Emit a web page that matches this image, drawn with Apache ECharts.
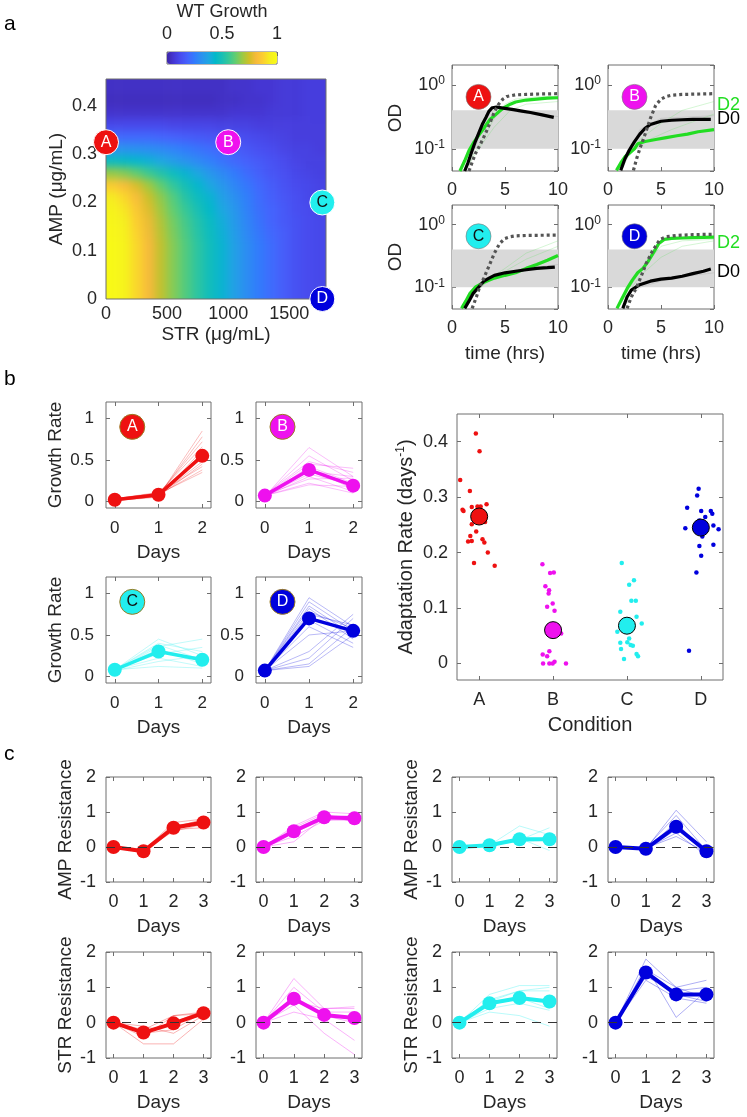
<!DOCTYPE html>
<html><head><meta charset="utf-8">
<script src="https://cdn.jsdelivr.net/npm/echarts@6/dist/echarts.min.js"></script>
<style>
html,body{margin:0;padding:0;background:#fff}
#wrap{position:relative;width:747px;height:1117px}
#heatwrap{position:absolute;left:106px;top:79px;width:220px;height:220px;overflow:hidden;z-index:0}
#heat{position:absolute;left:-14px;top:-14px;width:248px;height:248px;filter:blur(4px)}
#c{position:absolute;left:0;top:0;width:747px;height:1117px;z-index:1}
</style>
</head><body><div id="wrap"><div id="heatwrap"><div id="heat"></div></div><div id="c"></div></div>
<script>
// ---------------- DATA ----------------
// Panel a: WT growth landscape (rows = AMP cell centres, columns = STR cell centres)
const strCenters = [50,150,250,350,450,550,650,750,850,950,1050,1150,1250,1350,1450,1550,1650,1750];
const ampCenters = [0.0125,0.0375,0.0625,0.0875,0.1125,0.1375,0.1625,0.1875,0.2125,0.2375,0.2625,0.2875,0.3125,0.3375,0.3625,0.3875,0.4125,0.4375,0.4625];
const growthRows = [
 [0.99,0.96,0.89,0.81,0.73,0.66,0.60,0.54,0.48,0.42,0.36,0.30,0.25,0.21,0.17,0.14,0.12,0.11],
 [0.99,0.96,0.89,0.81,0.73,0.66,0.60,0.54,0.48,0.42,0.36,0.30,0.25,0.21,0.17,0.14,0.12,0.11],
 [0.99,0.96,0.89,0.81,0.73,0.66,0.60,0.54,0.48,0.42,0.36,0.30,0.25,0.21,0.17,0.14,0.12,0.11],
 [0.99,0.96,0.89,0.81,0.73,0.66,0.60,0.54,0.48,0.42,0.36,0.30,0.25,0.21,0.17,0.14,0.12,0.11],
 [0.99,0.96,0.89,0.81,0.73,0.66,0.60,0.54,0.48,0.42,0.36,0.30,0.25,0.21,0.17,0.14,0.12,0.11],
 [0.98,0.95,0.88,0.80,0.72,0.65,0.59,0.53,0.47,0.41,0.35,0.29,0.24,0.20,0.17,0.14,0.12,0.11],
 [0.97,0.94,0.87,0.79,0.71,0.64,0.58,0.52,0.46,0.40,0.34,0.28,0.23,0.19,0.16,0.14,0.12,0.11],
 [0.96,0.92,0.85,0.77,0.69,0.62,0.56,0.50,0.44,0.38,0.33,0.27,0.22,0.19,0.16,0.13,0.12,0.10],
 [0.93,0.89,0.82,0.74,0.67,0.60,0.53,0.47,0.42,0.36,0.31,0.26,0.21,0.18,0.15,0.13,0.11,0.10],
 [0.86,0.82,0.76,0.69,0.62,0.55,0.49,0.43,0.38,0.33,0.28,0.24,0.20,0.17,0.14,0.12,0.11,0.10],
 [0.68,0.66,0.62,0.57,0.52,0.47,0.42,0.38,0.33,0.29,0.25,0.21,0.18,0.15,0.13,0.11,0.10,0.09],
 [0.46,0.45,0.43,0.41,0.38,0.35,0.32,0.29,0.26,0.23,0.20,0.18,0.16,0.14,0.12,0.10,0.09,0.09],
 [0.32,0.32,0.31,0.30,0.29,0.27,0.25,0.23,0.21,0.19,0.17,0.15,0.13,0.12,0.10,0.09,0.09,0.08],
 [0.20,0.20,0.20,0.20,0.19,0.18,0.17,0.16,0.15,0.14,0.13,0.12,0.11,0.10,0.09,0.08,0.08,0.08],
 [0.11,0.11,0.11,0.11,0.11,0.10,0.10,0.10,0.10,0.09,0.09,0.09,0.08,0.08,0.08,0.08,0.08,0.08],
 [0.05,0.05,0.05,0.05,0.05,0.05,0.05,0.05,0.05,0.05,0.06,0.06,0.06,0.07,0.07,0.07,0.08,0.08],
 [0.03,0.03,0.03,0.03,0.03,0.03,0.03,0.03,0.03,0.04,0.04,0.05,0.05,0.06,0.07,0.07,0.08,0.08],
 [0.04,0.04,0.04,0.04,0.04,0.04,0.04,0.04,0.04,0.04,0.05,0.05,0.06,0.06,0.07,0.07,0.08,0.08],
 [0.04,0.04,0.04,0.04,0.04,0.04,0.04,0.04,0.04,0.04,0.05,0.05,0.06,0.06,0.07,0.07,0.08,0.08]
];
const conditionLabels = ['A','B','C','D'];
const conditionSTR = [0, 1000, 1770, 1770];
const conditionAMP = [0.325, 0.325, 0.2, 0];
const colorbarTicks = [0, 0.5, 1];

// OD curves [time (hrs), OD]
const odRef = [
 [[1.6,0.045],[2.2,0.084],[2.7,0.12],[3.2,0.18],[3.6,0.26],[4,0.38],[4.4,0.5],[4.8,0.6],[5.2,0.66],[6,0.7],[7,0.71],[8,0.72],[10,0.73]],
 [[2.4,0.046],[2.7,0.07],[3,0.1],[3.5,0.17],[4,0.3],[4.5,0.48],[5,0.6],[5.5,0.66],[6,0.69],[7,0.71],[10,0.73]],
 [[1.9,0.046],[2.3,0.07],[2.6,0.1],[3,0.14],[3.5,0.22],[4,0.35],[4.5,0.5],[5,0.6],[5.5,0.64],[6,0.66],[7,0.67],[10,0.68]],
 [[1.8,0.046],[2.2,0.07],[2.7,0.1],[3.2,0.16],[3.6,0.24],[4.2,0.38],[4.9,0.58],[5.5,0.64],[6.5,0.67],[8,0.69],[10,0.7]]
];
const odD0 = [
 [[1.2,0.045],[1.5,0.06],[1.9,0.094],[2.2,0.13],[2.6,0.19],[2.9,0.25],[3.2,0.31],[3.5,0.39],[3.8,0.44],[4.2,0.45],[5,0.43],[5.8,0.41],[6.6,0.39],[7.4,0.37],[8.5,0.34],[9.6,0.31]],
 [[1.2,0.046],[1.6,0.07],[2,0.095],[2.5,0.13],[3,0.17],[3.5,0.21],[4,0.24],[5,0.27],[6,0.28],[7,0.285],[8,0.29],[9.7,0.29]],
 [[1.2,0.046],[1.6,0.06],[2,0.08],[2.5,0.1],[3,0.125],[3.5,0.14],[4,0.155],[5,0.17],[6,0.18],[7,0.19],[8,0.2],[9,0.205],[9.7,0.21]],
 [[1.4,0.046],[1.8,0.07],[2.2,0.09],[3,0.11],[4,0.125],[5,0.135],[6,0.14],[7,0.15],[8,0.165],[9,0.18],[9.7,0.195]]
];
const odD2 = [
 [[0.75,0.045],[1.2,0.065],[1.6,0.094],[2.1,0.13],[2.6,0.17],[3.1,0.22],[3.6,0.29],[4.1,0.34],[4.5,0.39],[5,0.45],[5.5,0.5],[6,0.54],[7,0.58],[8,0.6],[9,0.62],[10,0.63]],
 [[0.8,0.046],[1.2,0.06],[1.6,0.075],[2,0.085],[2.5,0.1],[2.8,0.12],[3.5,0.13],[4.5,0.14],[5.5,0.15],[6.5,0.16],[7.5,0.17],[8.5,0.185],[10,0.2]],
 [[0.9,0.046],[1.3,0.06],[1.7,0.08],[2.2,0.1],[3,0.12],[4,0.14],[5,0.155],[6,0.17],[7,0.2],[8,0.23],[9,0.27],[10,0.32]],
 [[0.85,0.046],[1.3,0.065],[1.8,0.095],[2.3,0.13],[2.8,0.17],[3.3,0.2],[3.8,0.26],[4.3,0.36],[4.8,0.5],[5.3,0.58],[6,0.6],[7,0.61],[8,0.62],[10,0.63]]
];
const odRepGreen = [
 [[[1,0.045],[2,0.08],[3,0.15],[4,0.3],[5,0.5],[6,0.6],[8,0.65],[10,0.66]],[[1.2,0.045],[2.5,0.1],[4,0.22],[5.5,0.4],[7,0.5],[10,0.55]]],
 [[[1,0.05],[3,0.14],[5,0.25],[7,0.4],[10,0.55]],[[1,0.05],[3,0.12],[6,0.2],[10,0.35]]],
 [[[1,0.05],[3,0.12],[5,0.2],[7,0.35],[10,0.55]],[[1,0.05],[3,0.11],[5,0.18],[7,0.28],[10,0.45]]],
 [[[1,0.05],[3,0.15],[5,0.3],[7,0.45],[10,0.55]],[[1,0.05],[3,0.18],[5,0.45],[7,0.55],[10,0.58]]]
];
const odRepGray = [
 [[[1.5,0.045],[2.5,0.15],[3.5,0.38],[4.5,0.42],[7,0.36],[10,0.32]]],
 [[[1.4,0.05],[3,0.2],[5,0.3],[10,0.33]]],
 [[[1.4,0.05],[3,0.13],[6,0.19],[10,0.23]]],
 [[[1.5,0.05],[3,0.1],[6,0.14],[10,0.17]]]
];

// Panel b: growth rates per day (days 0,1,2)
const growthDays = [0,1,2];
const growthMean = [[0.02,0.08,0.55],[0.07,0.38,0.19],[0.08,0.30,0.20],[0.07,0.70,0.55]];
const growthInd = [
 [[0.01,0.06,0.85],[0.02,0.07,0.78],[0.02,0.09,0.72],[0.03,0.1,0.66],[0.01,0.05,0.62],[0.02,0.08,0.58],[0.03,0.11,0.52],[0.02,0.07,0.48],[0.01,0.06,0.45],[0.03,0.1,0.42],[0.02,0.08,0.38],[0.02,0.09,0.35]],
 [[0.06,0.65,0.3],[0.07,0.55,0.25],[0.08,0.48,0.35],[0.07,0.45,0.4],[0.06,0.42,0.22],[0.08,0.4,0.15],[0.07,0.36,0.3],[0.07,0.33,0.2],[0.06,0.3,0.12],[0.08,0.27,0.28],[0.07,0.22,0.1],[0.07,0.2,0.18]],
 [[0.08,0.45,0.25],[0.08,0.4,0.3],[0.07,0.36,0.45],[0.08,0.33,0.15],[0.08,0.3,0.2],[0.09,0.27,0.35],[0.08,0.22,0.12],[0.07,0.18,0.25],[0.08,0.12,0.1],[0.08,0.38,0.2]],
 [[0.07,0.95,0.6],[0.07,0.9,0.55],[0.07,0.85,0.5],[0.07,0.82,0.45],[0.07,0.78,0.58],[0.07,0.75,0.62],[0.07,0.72,0.52],[0.07,0.68,0.4],[0.07,0.6,0.35],[0.07,0.5,0.55],[0.07,0.3,0.75],[0.07,0.22,0.7],[0.07,0.15,0.6],[0.07,0.12,0.5]]
];
// adaptation rate per replicate [jittered condition position, rate]
const adaptA = [[0.955,0.415],[1.005,0.383],[0.743,0.331],[0.874,0.311],[0.775,0.277],[0.788,0.275],[0.9,0.282],[0.977,0.283],[1.02,0.283],[1.1,0.287],[1.07,0.259],[0.9,0.251],[1.08,0.255],[0.96,0.238],[0.88,0.23],[0.85,0.22],[0.9,0.221],[1.045,0.224],[1.07,0.218],[1.117,0.2],[0.93,0.181],[1.21,0.176]];
const adaptB = [[1.856,0.179],[1.96,0.163],[2.01,0.164],[1.896,0.139],[1.946,0.132],[1.94,0.126],[1.995,0.108],[1.92,0.102],[2.02,0.095],[2.11,0.054],[1.95,0.022],[1.86,0.016],[1.92,0.013],[1.865,0.0],[1.95,0.0],[1.995,0.0],[2.02,0.003],[2.175,0.0]];
const adaptC = [[2.93,0.181],[3.095,0.15],[3.03,0.142],[3.06,0.113],[3.12,0.113],[2.91,0.093],[3.13,0.084],[3.2,0.072],[2.87,0.057],[3.03,0.045],[3.005,0.038],[2.91,0.037],[3.05,0.033],[3.08,0.032],[2.92,0.026],[3.13,0.017],[3.15,0.013],[2.96,0.008]];
const adaptD = [[3.97,0.315],[3.95,0.303],[3.815,0.281],[4.005,0.275],[4.135,0.275],[4.155,0.27],[4.06,0.264],[3.98,0.258],[3.79,0.244],[4.17,0.249],[4.24,0.242],[4.02,0.229],[3.98,0.212],[4.17,0.214],[4.005,0.194],[3.94,0.164],[3.84,0.023]];
const adaptMean = [0.265, 0.06, 0.068, 0.245];

// Panel c: resistance (days 0..3)
const resDays = [0,1,2,3];
const ampResMean = [[0,-0.12,0.55,0.7],[0,0.45,0.85,0.82],[0,0.05,0.22,0.22],[0,-0.05,0.58,-0.12]];
const strResMean = [[0,-0.28,-0.02,0.27],[0,0.68,0.22,0.13],[0,0.55,0.7,0.6],[0,1.42,0.8,0.8]];
const ampResInd = [
 [[0,-0.1,0.7,0.8],[0,-0.15,0.6,0.75],[0,-0.12,0.5,0.55],[0,-0.1,0.45,0.65],[0,-0.14,0.55,0.8],[0,-0.12,0.65,0.6]],
 [[0,0.6,1.0,0.95],[0,0.5,0.9,0.85],[0,0.4,0.8,0.75],[0,0.3,0.75,0.8],[0,0.15,0.85,0.9],[0,0.55,0.95,0.7]],
 [[0,0.05,0.6,0.35],[0,0.05,0.2,0.55],[0,0.05,0.2,0.2],[0,0.03,0.25,-0.1],[0,0.07,0.15,0.2],[0,0.05,0.25,0.25]],
 [[0,-0.05,1.05,0.15],[0,-0.02,0.9,-0.1],[0,-0.05,0.7,-0.2],[0,-0.08,0.5,-0.05],[0,-0.03,0.3,-0.15],[0,-0.05,0.4,-0.25]]
];
const strResInd = [
 [[0,-0.4,0.2,0.3],[0,-0.2,0.2,0.25],[0,-0.6,-0.6,0.1],[0,-0.3,-0.2,0.3],[0,-0.1,-0.3,0.2],[0,-0.25,0.0,0.35]],
 [[0,1.25,0.4,0.45],[0,1.0,0.3,0.3],[0,0.7,0.2,0.0],[0,0.5,-0.3,-0.9],[0,0.3,0.1,-0.5],[0,0.6,0.4,0.4]],
 [[0,0.8,1.05,1.05],[0,0.6,0.9,0.9],[0,0.5,0.7,0.4],[0,0.4,0.55,0.35],[0,0.3,0.2,-0.1],[0,0.65,0.9,1.0]],
 [[0,1.8,1.0,1.2],[0,1.6,0.15,0.9],[0,1.4,0.8,0.6],[0,1.3,0.9,1.0],[0,1.2,0.7,0.55],[0,1.5,1.0,0.7]]
];

// ---------------- STYLE ----------------
const FONT = "'Liberation Sans', Arial, Helvetica, sans-serif";
const INK = '#262626';
const FRAME = '#6e6e6e';
const condColor = ['#ee1111', '#ee11ee', '#22eeee', '#0000dd'];
const condText = ['#ffffff', '#ffffff', '#111111', '#ffffff'];
const GREEN = '#22dd22';
const parula = ['#3e26a8','#4537d5','#484df0','#4563fd','#327bfc','#2b91ef','#20a5e3','#01b8ca','#19bfb5','#37c897','#64cd6f','#9dc943','#d1bf27','#f8ba3d','#fccf30','#f5ef20','#f9fb15'];

// ---------------- heat layer (own chart, softened with CSS blur) ----------------
const HEAT_X = [0, 1800], HEAT_Y = [0, 0.456], HEAT_PX = 220, PADPX = 14;
const padX = (HEAT_X[1] - HEAT_X[0]) * PADPX / HEAT_PX, padY = (HEAT_Y[1] - HEAT_Y[0]) * PADPX / HEAT_PX;
const heatData = [];
growthRows.forEach((row, r) => row.forEach((v, c) => heatData.push([strCenters[c], ampCenters[r], v, c, r])));
const heatChart = echarts.init(document.getElementById('heat'), null, {renderer: 'canvas'});
heatChart.setOption({
  animation: false,
  grid: {left: 0, top: 0, right: 0, bottom: 0, show: false},
  xAxis: {type: 'value', min: HEAT_X[0] - padX, max: HEAT_X[1] + padX, show: false},
  yAxis: {type: 'value', min: HEAT_Y[0] - padY, max: HEAT_Y[1] + padY, show: false},
  visualMap: {show: false, type: 'continuous', min: 0, max: 1, dimension: 2, inRange: {color: parula}},
  series: [{
    type: 'custom', data: heatData, clip: true, silent: true, animation: false,
    dimensions: ['str', 'amp', 'growth', 'col', 'row'], encode: {x: 0, y: 1},
    renderItem: function (params, api) {
      const s = api.value(0), a = api.value(1), c = api.value(3), r = api.value(4);
      const x0 = c === 0 ? -1000 : s - 50, x1 = c === strCenters.length - 1 ? 3000 : s + 50;
      const y0 = r === 0 ? -1 : a - 0.0125, y1 = r === ampCenters.length - 1 ? 1 : a + 0.0125;
      const p1 = api.coord([x0, y1]), p2 = api.coord([x1, y0]);
      return {type: 'rect', shape: {x: p1[0], y: p1[1], width: p2[0] - p1[0] + 0.6, height: p2[1] - p1[1] + 0.6},
        style: {fill: api.visual('color')}};
    }
  }]
});

// ---------------- main chart ----------------
const grids = [], xAxes = [], yAxes = [], series = [], mirrorX = [], mirrorY = [];

function addPanel(rect, xo, yo, mirror) {
  const gi = grids.length;
  grids.push({left: rect[0], top: rect[1], width: rect[2], height: rect[3], show: true,
    borderColor: FRAME, borderWidth: 1, backgroundColor: 'transparent'});
  xAxes.push(mkAxis(gi, xo));
  yAxes.push(mkAxis(gi, yo));
  if (mirror) {
    mirrorX.push(mkAxis(gi, Object.assign({}, xo, {position: 'top', labels: false, name: ''})));
    mirrorY.push(mkAxis(gi, Object.assign({}, yo, {position: 'right', labels: false, name: ''})));
  }
  return gi;
}
function mkAxis(gi, o) {
  const a = {
    gridIndex: gi, type: o.type || 'value', min: o.min, max: o.max,
    show: o.show !== false,
    name: o.name || '', nameLocation: 'middle', nameGap: o.nameGap || 30,
    nameTextStyle: {color: INK, fontFamily: FONT, fontSize: o.nameSize || 19, rich: o.nameRich},
    axisLine: {show: false, onZero: false}, splitLine: {show: false},
    axisTick: {show: o.ticks !== false, inside: true, length: 4, lineStyle: {color: FRAME, width: 1}},
    axisLabel: {show: o.labels !== false, color: INK, fontFamily: FONT, fontSize: o.size || 17,
      margin: o.margin || 8, showMinLabel: o.showMin, showMaxLabel: o.showMax}
  };
  if (o.position) a.position = o.position;
  if (o.values) { a.axisTick.customValues = o.values; a.axisLabel.customValues = o.values; }
  if (o.fmt) a.axisLabel.formatter = o.fmt;
  if (o.rich) a.axisLabel.rich = o.rich;
  if (o.logBase) a.logBase = o.logBase;
  return a;
}
function line(gi, data, color, width, extra) {
  return Object.assign({type: 'line', xAxisIndex: gi, yAxisIndex: gi, data: data, symbol: 'none',
    lineStyle: {color: color, width: width}, silent: true, animation: false, z: 3}, extra || {});
}
function badge(gi, x, y, k, size, border) {
  return {type: 'scatter', xAxisIndex: gi, yAxisIndex: gi, clip: false, silent: true, animation: false, z: 8,
    symbol: 'circle', symbolSize: size,
    data: [{value: [x, y], itemStyle: {color: condColor[k], opacity: 1, borderColor: border, borderWidth: 1}}],
    label: {show: true, position: 'inside', formatter: conditionLabels[k], color: condText[k], fontFamily: FONT, fontSize: 16}};
}
const pairs = (xs, ys) => ys.map((v, i) => [xs[i], v]);

// Panel a frame, axes, condition markers
const gH = addPanel([106, 79, 220, 220],
  {min: HEAT_X[0], max: HEAT_X[1], values: [0, 500, 1000, 1500], fmt: v => String(v), name: 'STR (\u03bcg/mL)', nameGap: 26, size: 18, margin: 6, ticks: false},
  {min: HEAT_Y[0], max: HEAT_Y[1], values: [0, 0.1, 0.2, 0.3, 0.4], fmt: v => String(v), name: 'AMP (\u03bcg/mL)', nameGap: 40, size: 18, margin: 9, ticks: false}, false);
conditionLabels.forEach((L, k) => series.push(badge(gH, conditionSTR[k], conditionAMP[k], k, 25, '#ffffff')));

// colour bar axis
const gCB = addPanel([167, 52, 110, 12],
  {min: 0, max: 1, values: colorbarTicks, fmt: v => String(v), position: 'top', name: 'WT Growth', nameGap: 31, size: 18, margin: 9, nameSize: 18},
  {min: 0, max: 1, show: false}, false);
const cbSeriesIndex = series.length;
series.push({type: 'line', xAxisIndex: gCB, yAxisIndex: gCB, data: [], silent: true});

// OD panels
const odRect = [[452, 65, 106, 106], [608, 65, 106, 106], [452, 205, 106, 104], [608, 205, 106, 104]];
const odFmt = v => (Math.abs(v - 1) < 1e-6 ? '10{s|0}' : (Math.abs(v - 0.1) < 1e-6 ? '10{s|-1}' : ''));
odRect.forEach((r, k) => {
  const bottom = k >= 2, left = (k % 2) === 0;
  const gi = addPanel(r,
    {min: 0, max: 10, values: [0, 5, 10], name: bottom ? 'time (hrs)' : '', nameGap: 35, size: 18, margin: 10},
    {type: 'log', logBase: 10, min: 0.045, max: 2.05, fmt: odFmt, size: 18, margin: 7, showMin: false, showMax: false,
     rich: {s: {fontSize: 12, verticalAlign: 'top', fontFamily: FONT, color: INK, padding: [0, 0, 8, 0]}},
     name: left ? 'OD' : '', nameGap: 47}, true);
  series.push({type: 'line', xAxisIndex: gi, yAxisIndex: gi, data: [], silent: true, z: 1,
    markArea: {silent: true, itemStyle: {color: '#d9d9d9'}, data: [[{yAxis: 0.1}, {yAxis: 0.4}]]}});
  odRepGray[k].forEach(d => series.push(line(gi, d, '#9a9a9a', 0.8, {z: 2, lineStyle: {color: '#9a9a9a', width: 0.8, opacity: 0.35}})));
  odRepGreen[k].forEach(d => series.push(line(gi, d, GREEN, 0.8, {z: 2, lineStyle: {color: '#66dd66', width: 0.8, opacity: 0.35}})));
  series.push(line(gi, odD2[k], GREEN, 3.2, {z: 4}));
  series.push(line(gi, odD0[k], '#000000', 3.2, {z: 5}));
  series.push(line(gi, odRef[k], '#555555', 3.2, {z: 6, lineStyle: {color: '#555555', width: 3.2, type: [3, 3]}}));
  series.push(badge(gi, 2.5, 0.65, k, 25, 'rgba(120,120,120,0.6)'));
});

// Growth rate panels
const grRect = [[106, 402, 105, 106], [256, 402, 106, 106], [106, 577, 105, 106], [256, 577, 106, 106]];
grRect.forEach((r, k) => {
  const left = (k % 2) === 0;
  const gi = addPanel(r,
    {min: -0.2, max: 2.2, values: growthDays, name: 'Days', nameGap: 35, size: 17, margin: 12},
    {min: -0.08, max: 1.2, values: [0, 0.5, 1], name: left ? 'Growth Rate' : '', nameGap: 41, size: 17, margin: 12}, true);
  growthInd[k].forEach(d => series.push(line(gi, pairs(growthDays, d), condColor[k], 0.8,
    {z: 2, lineStyle: {color: condColor[k], width: 0.8, opacity: 0.35}})));
  series.push(line(gi, pairs(growthDays, growthMean[k]), condColor[k], 3.5,
    {z: 4, symbol: 'circle', symbolSize: 14, showSymbol: true, itemStyle: {color: condColor[k], opacity: 1}}));
  series.push(badge(gi, 0.4, 0.9, k, 25, '#9a7a20'));
});

// Adaptation rate
const gAd = addPanel([457, 414, 266, 266],
  {min: 0.7, max: 4.3, values: [1, 2, 3, 4], fmt: v => conditionLabels[Math.round(v) - 1], name: 'Condition', nameGap: 35, size: 18, margin: 11, nameSize: 20},
  {min: -0.03, max: 0.45, values: [0, 0.1, 0.2, 0.3, 0.4], size: 18, margin: 9, nameSize: 20,
   name: 'Adaptation Rate (days{sup|-1})', nameGap: 40,
   nameRich: {sup: {fontSize: 12, verticalAlign: 'top', fontFamily: FONT, color: INK, padding: [0, 0, 10, 0]}}}, true);
[adaptA, adaptB, adaptC, adaptD].forEach((pts, k) => {
  series.push({type: 'scatter', xAxisIndex: gAd, yAxisIndex: gAd, data: pts, symbol: 'circle', symbolSize: 4.5,
    itemStyle: {color: condColor[k], opacity: 1}, silent: true, animation: false, z: 3});
});
series.push({type: 'scatter', xAxisIndex: gAd, yAxisIndex: gAd, silent: true, animation: false, z: 5,
  symbol: 'circle', symbolSize: 17,
  data: adaptMean.map((v, k) => ({value: [k + 1, v], itemStyle: {color: condColor[k], opacity: 1, borderColor: '#000', borderWidth: 1}}))});

// Resistance panels
const resCols = [106, 256, 452, 608];
const resW = [105, 106, 105, 106];
[[ampResMean, ampResInd, 777, 105, 'AMP Resistance'], [strResMean, strResInd, 952, 106, 'STR Resistance']].forEach(set => {
  const [means, inds, top, h, label] = set;
  for (let k = 0; k < 4; k++) {
    const gi = addPanel([resCols[k], top, resW[k], h],
      {min: -0.25, max: 3.25, values: resDays, name: 'Days', nameGap: 35, size: 18, margin: 11},
      {min: -1, max: 2, values: [-1, 0, 1, 2], name: (k % 2 === 0) ? label : '', nameGap: 31, size: 18, margin: 10}, true);
    series.push({type: 'line', xAxisIndex: gi, yAxisIndex: gi, data: [], silent: true, z: 1,
      markLine: {silent: true, symbol: 'none', label: {show: false}, animation: false,
        lineStyle: {color: '#333333', width: 1, type: [9, 7]}, data: [{yAxis: 0}]}});
    inds[k].forEach(d => series.push(line(gi, pairs(resDays, d), condColor[k], 0.8,
      {z: 2, lineStyle: {color: condColor[k], width: 0.8, opacity: 0.4}})));
    series.push(line(gi, pairs(resDays, means[k]), condColor[k], 4,
      {z: 4, symbol: 'circle', symbolSize: 14, showSymbol: true, itemStyle: {color: condColor[k], opacity: 1}}));
  }
});

const chart = echarts.init(document.getElementById('c'), null, {renderer: 'canvas'});
chart.setOption({
  animation: false,
  backgroundColor: 'transparent',
  textStyle: {fontFamily: FONT, color: INK},
  grid: grids, xAxis: xAxes.concat(mirrorX), yAxis: yAxes.concat(mirrorY), series: series,
  visualMap: {type: 'continuous', min: 0, max: 1, dimension: 2, seriesIndex: cbSeriesIndex, orient: 'horizontal',
    left: 167, top: 52, itemWidth: 12, itemHeight: 110, calculable: false, text: null, showLabel: false,
    padding: 0, hoverLink: false, inRange: {color: parula}},
  graphic: [
    {type: 'text', left: 4, top: 14, style: {text: 'a', fontSize: 21, fontFamily: FONT, fill: '#000'}},
    {type: 'text', left: 4, top: 369, style: {text: 'b', fontSize: 21, fontFamily: FONT, fill: '#000'}},
    {type: 'text', left: 4, top: 744, style: {text: 'c', fontSize: 21, fontFamily: FONT, fill: '#000'}},
    {type: 'text', left: 717, top: 96, style: {text: 'D2', fontSize: 18, fontFamily: FONT, fill: GREEN}},
    {type: 'text', left: 717, top: 110, style: {text: 'D0', fontSize: 18, fontFamily: FONT, fill: '#000'}},
    {type: 'text', left: 717, top: 234, style: {text: 'D2', fontSize: 18, fontFamily: FONT, fill: GREEN}},
    {type: 'text', left: 717, top: 263, style: {text: 'D0', fontSize: 18, fontFamily: FONT, fill: '#000'}}
  ]
});
</script></body></html>
